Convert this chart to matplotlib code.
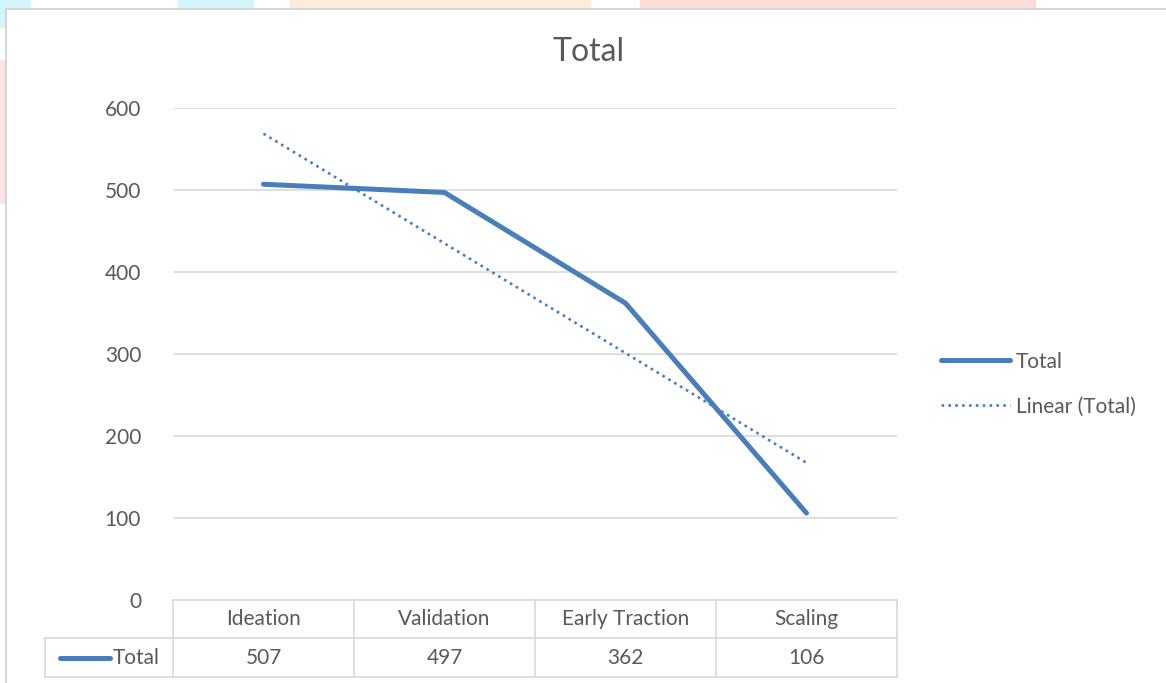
import matplotlib.pyplot as plt
import matplotlib.transforms as mtransforms
from matplotlib.patches import Rectangle
import numpy as np

plt.rcParams["font.family"] = ["Lato", "DejaVu Sans"]

stages = ["Ideation", "Validation", "Early Traction", "Scaling"]
totals = [507, 497, 362, 106]
y_ticks = [0, 100, 200, 300, 400, 500, 600]

BLUE = "#4a7ebb"
GREY_TXT = "#595959"
GRID = "#d9d9d9"

W, H = 1166, 683
fig = plt.figure(figsize=(W / 100, H / 100), dpi=100)
fig.patch.set_facecolor("white")

# faint page background peeking around the chart edge
for (x0, y0, w, h, c) in [(0, 0, 30, 9, "#d4f5fb"), (178, 0, 75, 9, "#d4f5fb"),
                          (290, 0, 300, 9, "#fdecdc"), (640, 0, 395, 9, "#fcdcd6"),
                          (0, 9, 6, 18, "#d4f5fb"), (0, 60, 6, 143, "#fde4e4")]:
    fig.patches.append(Rectangle((x0 / W, 1 - (y0 + h) / H), w / W, h / H,
                                 transform=fig.transFigure, color=c, zorder=-10))
fig.patches.append(Rectangle((6 / W, -0.01), 1.0, 1 - 9 / H + 0.01, transform=fig.transFigure,
                             facecolor="white", edgecolor="#d0d0d0", lw=1.2, zorder=-5))

left, right, top, bottom = 173, 897, 108, 600
ax = fig.add_axes([left / W, 1 - bottom / H, (right - left) / W, (bottom - top) / H])
ax.set_facecolor("none")

x = np.arange(1, len(stages) + 1)
ax.plot(x, totals, color=BLUE, lw=3.6, solid_capstyle="round", label="Total", zorder=3)

# linear trend line, like Excel's "Linear (Total)"
k, b = np.polyfit(x, totals, 1)
ax.plot(x, k * x + b, color=BLUE, lw=1.9, ls=(0, (1, 1.6)), label="Linear (Total)", zorder=2)

ax.set_xlim(0.5, len(stages) + 0.5)
ax.set_ylim(0, 600)
ax.set_yticks(y_ticks)
ax.set_xticks([])
for v in y_ticks[1:]:
    ax.axhline(v, color=GRID, lw=1.2, zorder=1)
for s in ax.spines.values():
    s.set_visible(False)
ax.tick_params(axis="y", length=0, pad=23, labelsize=15, labelcolor=GREY_TXT)

fig.text(589 / W, 1 - 52 / H, "Total", ha="center", va="center", fontsize=23, color=GREY_TXT)

# data table under the plot
tr = mtransforms.blended_transform_factory(ax.transData, ax.transAxes)
ph = bottom - top
r1 = -(638 - bottom) / ph
r2 = -(677 - bottom) / ph
cw = (right - left) / len(stages)
x_leg = 0.5 + (45 - left) / cw
x_end = len(stages) + 0.5
line_kw = dict(color=GRID, lw=1.2, transform=tr, clip_on=False)
ax.plot([0.5, x_end], [0, 0], **line_kw)
ax.plot([x_leg, x_end], [r1, r1], **line_kw)
ax.plot([x_leg, x_end], [r2, r2], **line_kw)
ax.plot([x_leg, x_leg], [r1, r2], **line_kw)
for xb in np.arange(0.5, x_end + 0.01, 1.0):
    ax.plot([xb, xb], [0, r2], **line_kw)

for xi, name, val in zip(x, stages, totals):
    ax.text(xi, r1 / 2, name, transform=tr, ha="center", va="center",
            fontsize=15, color=GREY_TXT)
    ax.text(xi, (r1 + r2) / 2, str(val), transform=tr, ha="center", va="center",
            fontsize=15, color=GREY_TXT)

ax.plot([0.5 + (60 - left) / cw, 0.5 + (110 - left) / cw], [(r1 + r2) / 2] * 2,
        color=BLUE, lw=3.6, solid_capstyle="round", transform=tr, clip_on=False)
ax.text(0.5 + (113 - left) / cw, (r1 + r2) / 2, "Total", transform=tr, ha="left",
        va="center", fontsize=15, color=GREY_TXT)

leg = ax.legend(loc="center left", bbox_to_anchor=(922 / W, 1 - 384 / H),
                bbox_transform=fig.transFigure, frameon=False, fontsize=15,
                handlelength=3.3, handletextpad=0.3, labelspacing=1.2)
for t in leg.get_texts():
    t.set_color(GREY_TXT)

fig.savefig("out.png", dpi=100)
